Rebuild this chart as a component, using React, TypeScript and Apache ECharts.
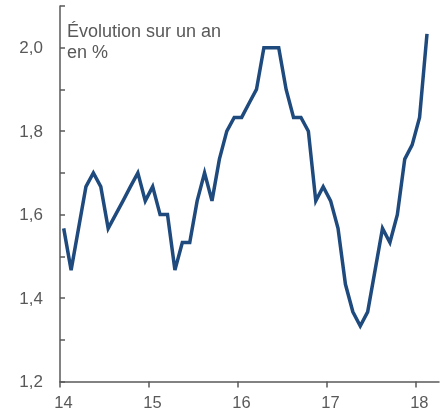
import React, { useEffect, useRef } from "react";
import * as echarts from "echarts";

// Monthly values, Jan 2014 .. Feb 2018 (évolution sur un an, en %)
const startYear = 14;
const values: number[] = [
  1.567, 1.467, 1.567, 1.667, 1.7, 1.667, 1.567, 1.6, 1.633, 1.667, 1.7, 1.633,
  1.667, 1.6, 1.6, 1.467, 1.533, 1.533, 1.633, 1.7, 1.633, 1.733, 1.8, 1.833,
  1.833, 1.867, 1.9, 2.0, 2.0, 2.0, 1.9, 1.833, 1.833, 1.8, 1.633, 1.667,
  1.633, 1.567, 1.433, 1.367, 1.333, 1.367, 1.467, 1.567, 1.533, 1.6, 1.733, 1.767,
  1.833, 2.033,
];
const xTickValues = [14, 15, 16, 17, 18];
const yTickValues = [1.2, 1.3, 1.4, 1.5, 1.6, 1.7, 1.8, 1.9, 2.0, 2.1];
const yLabelValues = [1.2, 1.4, 1.6, 1.8, 2.0];
const titleLines = ["Évolution sur un an", "en %"];

export default function App() {
  const ref = useRef<HTMLDivElement>(null);
  useEffect(() => {
    if (!ref.current) return;
    const chart = echarts.init(ref.current, undefined, { renderer: "svg" });
    const data = values.map((v, i) => [startYear + (i + 0.5) / 12, v]);
    const gray = "#595959";
    const font = "Liberation Sans, Arial, sans-serif";
    chart.setOption({
      animation: false,
      grid: { left: 60, right: 9, top: 6, bottom: 33.5, containLabel: false },
      xAxis: {
        type: "value",
        min: 14,
        max: 18.26,
        splitLine: { show: false },
        axisLine: { show: true, lineStyle: { color: gray, width: 1.5 } },
        axisTick: {
          show: true,
          inside: false,
          length: 6,
          customValues: xTickValues,
          lineStyle: { color: gray, width: 1.5 },
        },
        axisLabel: {
          customValues: xTickValues,
          color: gray,
          fontSize: 16.5,
          fontFamily: font,
          margin: 12,
          padding: [0, 0, 0, 7],
          formatter: (v: number) => String(Math.round(v)),
        },
      },
      yAxis: {
        type: "value",
        min: 1.2,
        max: 2.1,
        splitLine: { show: false },
        axisLine: { show: true, lineStyle: { color: gray, width: 1.5 } },
        axisTick: {
          show: true,
          inside: true,
          length: 5,
          customValues: yTickValues,
          lineStyle: { color: gray, width: 1.5 },
        },
        axisLabel: {
          customValues: yLabelValues,
          color: gray,
          fontSize: 17,
          fontFamily: font,
          margin: 17,
          formatter: (v: number) => v.toFixed(1).replace(".", ","),
        },
      },
      graphic: [
        {
          type: "text",
          left: 67,
          top: 20,
          style: {
            text: titleLines.join("\n"),
            fill: gray,
            font: "18px " + font,
            lineHeight: 21,
          },
        },
      ],
      series: [
        {
          type: "line",
          data,
          symbol: "none",
          lineStyle: { color: "#1f4a7e", width: 3.5, join: "miter" },
        },
      ],
    });
    return () => chart.dispose();
  }, []);
  return (
    <div
      ref={ref}
      style={{ position: "fixed", left: 0, top: 0, width: 448, height: 415 }}
    />
  );
}
